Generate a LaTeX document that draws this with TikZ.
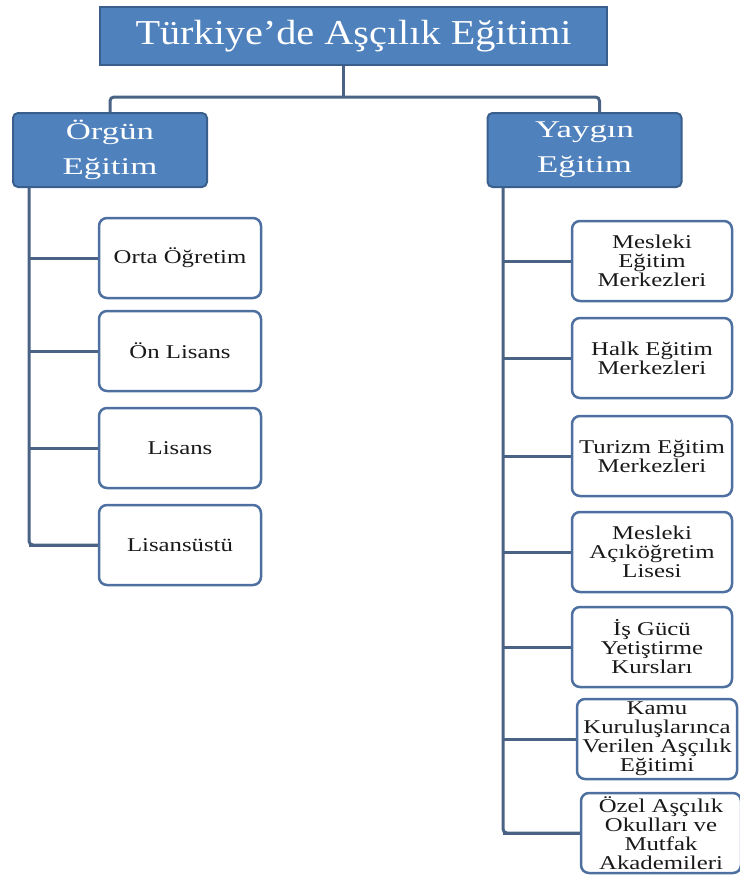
\documentclass[tikz,border=0pt]{standalone}
\usepackage{fontspec}
\setmainfont{Liberation Serif}
\newfontfamily\titlefont[FakeStretch=1.15]{Liberation Serif}
\newfontfamily\headfont[FakeStretch=1.45]{Liberation Serif}
\newfontfamily\kidfont[FakeStretch=1.27]{Liberation Serif}
\definecolor{boxblue}{HTML}{4F81BD}
\definecolor{boxedge}{HTML}{3A5F8C}
\definecolor{linkcol}{HTML}{4A6385}
\definecolor{kidedge}{HTML}{4D70A0}
\tikzset{
  headbox/.style={draw=boxedge,fill=boxblue,line width=2pt,text=white,align=center,inner sep=2pt},
  kidbox/.style={draw=kidedge,fill=white,line width=2.5pt,rounded corners=8pt,minimum width=160pt,minimum height=80pt,inner sep=1pt,align=center,font=\kidfont\fontsize{19.5}{19}\selectfont,text=black!90},
  link/.style={draw=linkcol,line width=3pt},
}
\begin{document}
\begin{tikzpicture}[x=1pt,y=-1pt]
  \useasboundingbox (0,0) rectangle (739,875);
  \node[headbox,minimum width=507pt,minimum height=58pt,font=\titlefont\fontsize{35}{35}\selectfont] (top) at (353.5,36) {Türkiye’de Aşçılık Eğitimi};
  \node[headbox,rounded corners=5pt,minimum width=194pt,minimum height=74pt,font=\headfont\fontsize{24}{35}\selectfont] (orgun) at (110,150) {Örgün\\Eğitim};
  \node[headbox,rounded corners=5pt,minimum width=194pt,minimum height=74pt,font=\headfont\fontsize{24}{35}\selectfont] (yaygin) at (584.5,150) {Yaygın\\Eğitim};
  \coordinate (bus) at (0,97);
  \coordinate (stem) at ([xshift=-10pt]top.south);
  \coordinate (rdrop) at ([xshift=15pt]yaygin.north);
  \coordinate (ltrunk) at (29,0);
  \coordinate (rtrunk) at (503,0);
  \draw[link] (stem) -- (stem |- bus);
  \draw[link,rounded corners=4pt] (orgun.north) |- (bus -| rdrop) -- (rdrop);
  % orgun egitim
  \foreach \i/\y/\lab in {1/258/Orta Öğretim,2/351/Ön Lisans,3/448/Lisans,4/545/Lisansüstü}{
    \node[kidbox,minimum width=162pt] (o\i) at (180,\y) {\lab};
    \draw[link] (o\i.west -| ltrunk) -- (o\i.west);
  }
  \draw[link,rounded corners=4pt] (orgun.south -| ltrunk) |- (o4.west);
  % yaygin egitim
  \foreach \i/\x/\y/\lab in {1/652/261/{Mesleki\\Eğitim\\Merkezleri},2/652/358/{Halk Eğitim\\Merkezleri},3/652/456/{Turizm Eğitim\\Merkezleri},4/652/552/{Mesleki\\Açıköğretim\\Lisesi},5/652/647/{İş Gücü\\Yetiştirme\\Kursları},6/657/739/{Kamu\\Kuruluşlarınca\\Verilen Aşçılık\\Eğitimi},7/661/833/{Özel Aşçılık\\Okulları ve\\Mutfak\\Akademileri}}{
    \node[kidbox] (y\i) at (\x,\y) {\lab};
    \draw[link] (y\i.west -| rtrunk) -- (y\i.west);
  }
  \draw[link,rounded corners=4pt] (yaygin.south -| rtrunk) |- (y7.west);
\end{tikzpicture}
\end{document}
